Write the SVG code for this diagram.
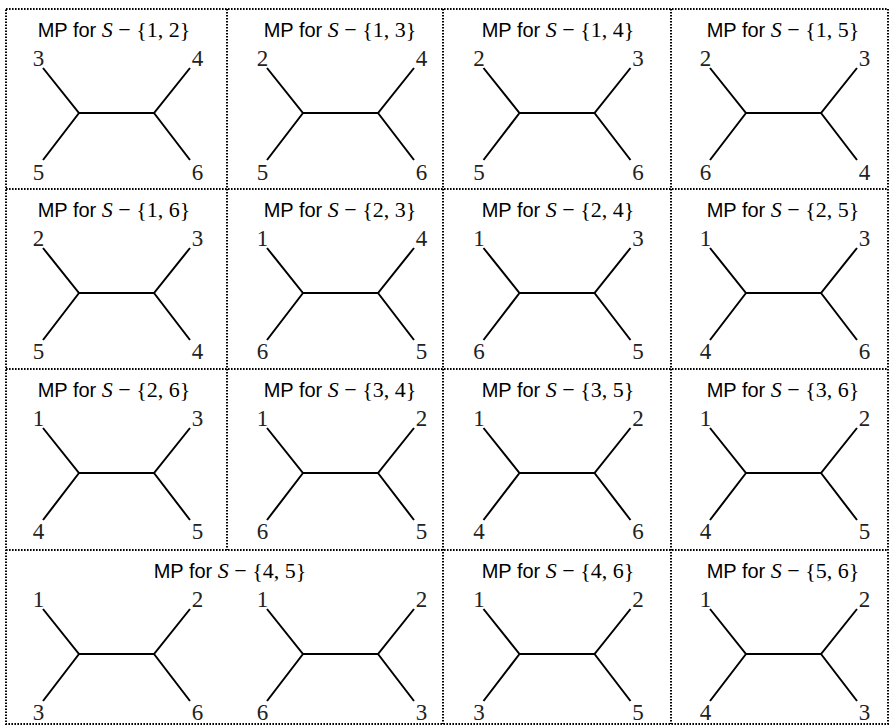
<svg xmlns="http://www.w3.org/2000/svg" xmlns:xlink="http://www.w3.org/1999/xlink" width="890" height="726" viewBox="0 0 890 726">
<style>
.t{font-family:"Liberation Sans",Arial,sans-serif;font-size:20px;text-anchor:middle;fill:#000}
.m{font-family:"Liberation Serif","Times New Roman",serif;font-size:22px}
.i{font-style:italic}
.l{font-family:"Liberation Serif","Times New Roman",serif;font-size:23px;text-anchor:middle;fill:#222}
.e{fill:none;stroke:#000;stroke-width:2}
.b{fill:none;stroke:#000;stroke-width:2;stroke-dasharray:1.6 1.4}
</style>
<defs>
<path id="tr" class="e" d="M-73.5,-45 L-37.5,0 L37.5,0 L73.5,-45 M-37.5,0 L-73.5,47 M37.5,0 L73.5,47"/>
</defs>
<rect width="890" height="726" fill="#fff"/>
<g id="grid">
<rect class="b" x="6" y="9" width="882" height="715"/>
<line class="b" x1="6" y1="189" x2="888" y2="189"/>
<line class="b" x1="6" y1="369" x2="888" y2="369"/>
<line class="b" x1="6" y1="550" x2="888" y2="550"/>
<line class="b" x1="227" y1="9" x2="227" y2="550"/>
<line class="b" x1="443" y1="9" x2="443" y2="724"/>
<line class="b" x1="671" y1="9" x2="671" y2="724"/>
</g>
<g id="p12">
<text class="t" x="114" y="37">MP for <tspan class="m i">S</tspan><tspan class="m"> − {1, 2}</tspan></text>
<use xlink:href="#tr" x="116.5" y="113"/>
<text class="l" x="38.5" y="66">3</text><text class="l" x="197.5" y="66">4</text>
<text class="l" x="38.5" y="180">5</text><text class="l" x="197.5" y="180">6</text>
</g>
<g id="p13">
<text class="t" x="340" y="37">MP for <tspan class="m i">S</tspan><tspan class="m"> − {1, 3}</tspan></text>
<use xlink:href="#tr" x="340.5" y="113"/>
<text class="l" x="262.5" y="66">2</text><text class="l" x="421.5" y="66">4</text>
<text class="l" x="262.5" y="180">5</text><text class="l" x="421.5" y="180">6</text>
</g>
<g id="p14">
<text class="t" x="558" y="37">MP for <tspan class="m i">S</tspan><tspan class="m"> − {1, 4}</tspan></text>
<use xlink:href="#tr" x="557" y="113"/>
<text class="l" x="479" y="66">2</text><text class="l" x="638" y="66">3</text>
<text class="l" x="479" y="180">5</text><text class="l" x="638" y="180">6</text>
</g>
<g id="p15">
<text class="t" x="783" y="37">MP for <tspan class="m i">S</tspan><tspan class="m"> − {1, 5}</tspan></text>
<use xlink:href="#tr" x="783.5" y="113"/>
<text class="l" x="705.5" y="66">2</text><text class="l" x="864.5" y="66">3</text>
<text class="l" x="705.5" y="180">6</text><text class="l" x="864.5" y="180">4</text>
</g>
<g id="p16">
<text class="t" x="114" y="217">MP for <tspan class="m i">S</tspan><tspan class="m"> − {1, 6}</tspan></text>
<use xlink:href="#tr" x="116.5" y="293"/>
<text class="l" x="38.5" y="246">2</text><text class="l" x="197.5" y="246">3</text>
<text class="l" x="38.5" y="359">5</text><text class="l" x="197.5" y="359">4</text>
</g>
<g id="p23">
<text class="t" x="340" y="217">MP for <tspan class="m i">S</tspan><tspan class="m"> − {2, 3}</tspan></text>
<use xlink:href="#tr" x="340.5" y="293"/>
<text class="l" x="262.5" y="246">1</text><text class="l" x="421.5" y="246">4</text>
<text class="l" x="262.5" y="359">6</text><text class="l" x="421.5" y="359">5</text>
</g>
<g id="p24">
<text class="t" x="558" y="217">MP for <tspan class="m i">S</tspan><tspan class="m"> − {2, 4}</tspan></text>
<use xlink:href="#tr" x="557" y="293"/>
<text class="l" x="479" y="246">1</text><text class="l" x="638" y="246">3</text>
<text class="l" x="479" y="359">6</text><text class="l" x="638" y="359">5</text>
</g>
<g id="p25">
<text class="t" x="783" y="217">MP for <tspan class="m i">S</tspan><tspan class="m"> − {2, 5}</tspan></text>
<use xlink:href="#tr" x="783.5" y="293"/>
<text class="l" x="705.5" y="246">1</text><text class="l" x="864.5" y="246">3</text>
<text class="l" x="705.5" y="359">4</text><text class="l" x="864.5" y="359">6</text>
</g>
<g id="p26">
<text class="t" x="114" y="397">MP for <tspan class="m i">S</tspan><tspan class="m"> − {2, 6}</tspan></text>
<use xlink:href="#tr" x="116.5" y="473"/>
<text class="l" x="38.5" y="426">1</text><text class="l" x="197.5" y="426">3</text>
<text class="l" x="38.5" y="539">4</text><text class="l" x="197.5" y="539">5</text>
</g>
<g id="p34">
<text class="t" x="340" y="397">MP for <tspan class="m i">S</tspan><tspan class="m"> − {3, 4}</tspan></text>
<use xlink:href="#tr" x="340.5" y="473"/>
<text class="l" x="262.5" y="426">1</text><text class="l" x="421.5" y="426">2</text>
<text class="l" x="262.5" y="539">6</text><text class="l" x="421.5" y="539">5</text>
</g>
<g id="p35">
<text class="t" x="558" y="397">MP for <tspan class="m i">S</tspan><tspan class="m"> − {3, 5}</tspan></text>
<use xlink:href="#tr" x="557" y="473"/>
<text class="l" x="479" y="426">1</text><text class="l" x="638" y="426">2</text>
<text class="l" x="479" y="539">4</text><text class="l" x="638" y="539">6</text>
</g>
<g id="p36">
<text class="t" x="783" y="397">MP for <tspan class="m i">S</tspan><tspan class="m"> − {3, 6}</tspan></text>
<use xlink:href="#tr" x="783.5" y="473"/>
<text class="l" x="705.5" y="426">1</text><text class="l" x="864.5" y="426">2</text>
<text class="l" x="705.5" y="539">4</text><text class="l" x="864.5" y="539">5</text>
</g>
<g id="p45">
<text class="t" x="230" y="578">MP for <tspan class="m i">S</tspan><tspan class="m"> − {4, 5}</tspan></text>
<use xlink:href="#tr" x="116.5" y="654"/>
<use xlink:href="#tr" x="340.5" y="654"/>
<text class="l" x="38.5" y="607">1</text><text class="l" x="197.5" y="607">2</text>
<text class="l" x="38.5" y="720">3</text><text class="l" x="197.5" y="720">6</text>
<text class="l" x="262.5" y="607">1</text><text class="l" x="421.5" y="607">2</text>
<text class="l" x="262.5" y="720">6</text><text class="l" x="421.5" y="720">3</text>
</g>
<g id="p46">
<text class="t" x="558" y="578">MP for <tspan class="m i">S</tspan><tspan class="m"> − {4, 6}</tspan></text>
<use xlink:href="#tr" x="557" y="654"/>
<text class="l" x="479" y="607">1</text><text class="l" x="638" y="607">2</text>
<text class="l" x="479" y="720">3</text><text class="l" x="638" y="720">5</text>
</g>
<g id="p56">
<text class="t" x="783" y="578">MP for <tspan class="m i">S</tspan><tspan class="m"> − {5, 6}</tspan></text>
<use xlink:href="#tr" x="783.5" y="654"/>
<text class="l" x="705.5" y="607">1</text><text class="l" x="864.5" y="607">2</text>
<text class="l" x="705.5" y="720">4</text><text class="l" x="864.5" y="720">3</text>
</g>
</svg>
